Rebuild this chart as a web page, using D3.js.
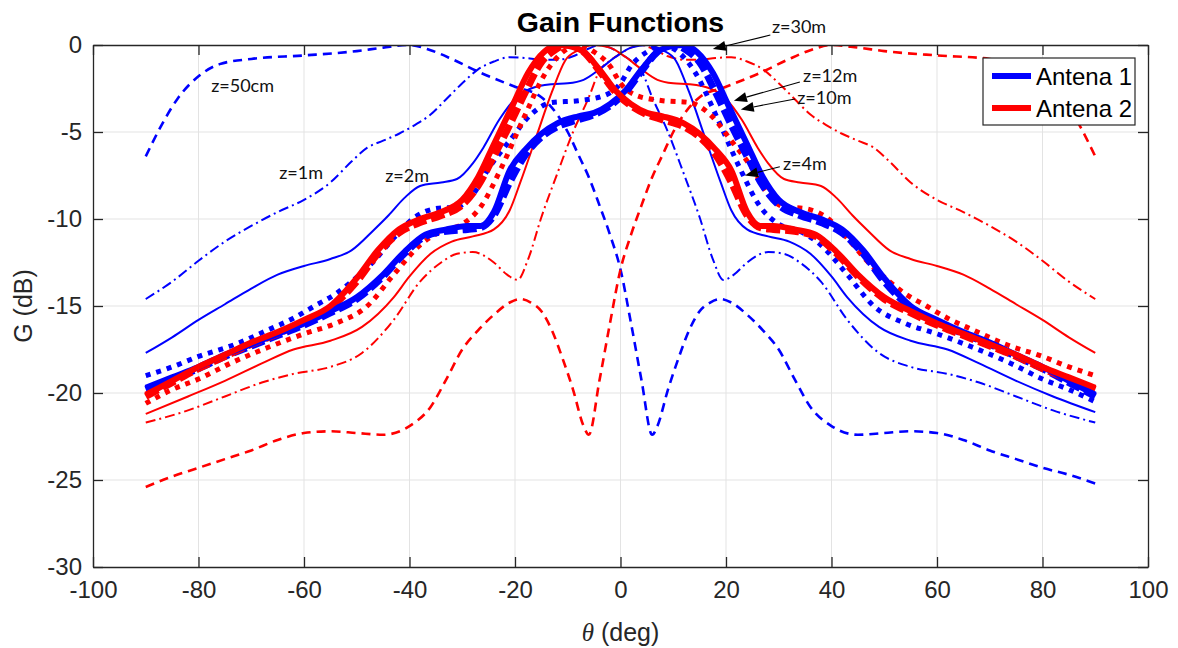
<!DOCTYPE html>
<html><head><meta charset="utf-8">
<script src="https://cdn.jsdelivr.net/npm/d3@7"></script>
<style>body{margin:0;background:#fff}svg{display:block}</style>
</head><body>
<svg id="chart" width="1178" height="648"></svg>
<script>
// ---------- DATA (theta in deg, gain in dB) ----------
const xTicks = [-100,-80,-60,-40,-20,0,20,40,60,80,100];
const yTicks = [-30,-25,-20,-15,-10,-5,0];
const legendLabels = ["Antena 1","Antena 2"];

// Antena 1 (blue)
const a1_z50 = [[-90,-6.4],[-87,-4.6],[-84,-3.1],[-80,-1.8],[-76,-1.1],[-70,-0.8],[-60,-0.6],[-50,-0.35],[-45,-0.15],[-40,0],[-36,-0.3],[-32,-0.8],[-26.5,-1.6],[-20,-2.4],[-15,-3.0],[-12,-4.0],[-10,-5.0],[-8,-6.3],[-6,-7.6],[-4,-9.2],[-2,-10.9],[0,-12.9],[2,-16.0],[4,-19.3],[6,-22.4],[7,-21.9],[9,-19.8],[11,-18.0],[13,-16.4],[15,-15.3],[17,-14.8],[19,-14.6],[21,-14.8],[24,-15.5],[27,-16.4],[30,-17.5],[33,-19.2],[36,-20.8],[40,-21.9],[45,-22.4],[50,-22.3],[55,-22.2],[60,-22.3],[65,-22.7],[70,-23.3],[75,-23.8],[80,-24.3],[85,-24.7],[90,-25.2]];
const a1_z1 = [[-90,-14.6],[-85,-13.6],[-80,-12.4],[-75,-11.3],[-70,-10.4],[-65,-9.6],[-60,-8.9],[-55,-7.9],[-51,-6.7],[-48,-5.9],[-45,-5.5],[-42,-5.1],[-39,-4.6],[-36,-4.0],[-33,-3.1],[-30,-2.2],[-27,-1.4],[-24,-0.95],[-21,-0.7],[-18,-0.75],[-15,-0.85],[-12,-0.85],[-9,-0.65],[-6,-0.2],[-4,0],[-2,-0.15],[0,-0.5],[2,-0.9],[4,-1.5],[6,-3.0],[9,-5.0],[12,-7.4],[15,-9.9],[17.5,-12.3],[19.5,-13.5],[21.5,-13.2],[24,-12.5],[28,-11.9],[31,-12.0],[34,-12.5],[38,-13.6],[43,-15.8],[49,-17.7],[55,-18.5],[62,-18.9],[68,-19.4],[75,-20.2],[82,-21.0],[90,-21.7]];
const a1_z2 = [[-90,-17.7],[-85,-16.8],[-80,-15.8],[-75,-14.9],[-70,-14.0],[-65,-13.2],[-60,-12.7],[-55,-12.3],[-51,-11.8],[-47,-10.7],[-44,-9.8],[-41,-8.8],[-38,-8.1],[-34,-7.9],[-31,-7.7],[-28,-6.8],[-26,-5.9],[-23,-4.3],[-20,-3.1],[-17,-2.5],[-13,-2.25],[-10,-2.2],[-7,-2.0],[-4,-1.4],[-1,-0.7],[2,-0.15],[5,0],[8,-0.3],[10.5,-0.9],[13,-2.7],[16,-5.3],[19,-7.9],[21,-9.5],[24,-10.6],[28,-11.0],[32,-11.3],[36,-12.0],[40,-13.3],[43,-14.5],[49,-16.2],[55,-17.0],[62,-17.5],[68,-18.3],[75,-19.3],[82,-20.2],[90,-21.1]];
const a1_z4 = [[-90,-19.0],[-85,-18.5],[-80,-17.9],[-73,-17.2],[-67,-16.4],[-62,-15.7],[-58,-15.0],[-54,-14.3],[-51,-13.6],[-47,-12.5],[-43,-11.1],[-39,-9.9],[-35,-9.4],[-31,-9.3],[-28,-8.6],[-25,-7.1],[-21,-5.5],[-17,-4.0],[-13,-3.3],[-8,-3.2],[-3,-2.9],[0,-2.2],[2,-1.2],[5,-0.4],[8,0],[10.5,-0.3],[14,-1.5],[18.5,-4.3],[22.5,-7.0],[26.5,-9.3],[30,-10.3],[34,-10.7],[38,-11.5],[43,-13.2],[48,-15.0],[54,-16.0],[60,-16.6],[67,-17.4],[74,-18.3],[80,-19.2],[85,-19.8],[90,-20.5]];
const a1_z12 = [[-90,-19.8],[-85,-19.2],[-80,-18.6],[-75,-17.9],[-70,-17.3],[-65,-16.7],[-60,-16.1],[-55,-15.4],[-50,-14.6],[-45,-13.3],[-41,-12.0],[-37,-11.0],[-33,-10.7],[-29,-10.6],[-26.5,-10.5],[-24,-9.8],[-21,-7.9],[-18,-6.3],[-15,-5.3],[-12,-4.7],[-8,-4.3],[-5,-4.0],[-2,-3.5],[1,-2.7],[4,-1.5],[7,-0.4],[10,0],[12.5,-0.3],[15,-1.0],[18,-2.7],[21,-4.6],[24,-6.4],[27,-8.1],[30,-9.2],[34,-9.8],[38,-10.2],[42,-10.8],[46,-12.0],[50,-13.6],[55,-15.1],[60,-15.9],[65,-16.6],[70,-17.2],[75,-17.9],[80,-18.6],[85,-19.4],[90,-20.2]];
const a1_z30 = [[-90,-19.7],[-85,-19.1],[-80,-18.5],[-75,-17.8],[-70,-17.2],[-65,-16.6],[-60,-16.0],[-55,-15.3],[-50,-14.5],[-45,-13.2],[-41,-11.9],[-37,-10.9],[-33,-10.6],[-29,-10.4],[-26.5,-10.4],[-24,-9.6],[-21,-7.2],[-18,-6.0],[-15,-5.1],[-12,-4.5],[-8,-4.1],[-5,-3.9],[-2,-3.4],[1,-2.6],[4,-1.4],[7,-0.4],[10,-0.05],[12,0],[14.5,-0.4],[17.5,-1.6],[20.5,-3.5],[24,-5.7],[27,-7.6],[30,-8.9],[34,-9.6],[38,-10.0],[42,-10.6],[46,-11.8],[50,-13.4],[55,-15.0],[60,-15.8],[65,-16.5],[70,-17.1],[75,-17.8],[80,-18.5],[85,-19.3],[90,-20.1]];

// Antena 2 (red)
const a2_z50 = [[-90,-25.4],[-85,-24.8],[-80,-24.3],[-75,-23.8],[-70,-23.3],[-65,-22.7],[-60,-22.3],[-55,-22.2],[-50,-22.3],[-45,-22.4],[-40,-21.9],[-36,-20.8],[-33,-19.2],[-30,-17.5],[-27,-16.4],[-24,-15.5],[-21,-14.8],[-19,-14.6],[-17,-14.8],[-15,-15.3],[-13,-16.4],[-11,-18.0],[-9,-19.8],[-7,-21.9],[-6,-22.4],[-4,-19.3],[-2,-16.0],[0,-12.9],[2,-10.9],[4,-9.2],[6,-7.6],[8,-6.3],[10,-5.0],[12,-4.0],[15,-3.0],[20,-2.4],[26.5,-1.6],[32,-0.8],[36,-0.3],[40,0],[45,-0.15],[50,-0.35],[60,-0.6],[70,-0.8],[76,-1.1],[80,-1.8],[84,-3.1],[87,-4.6],[90,-6.4]];
const a2_z1 = [[-90,-21.7],[-82,-21.0],[-75,-20.2],[-68,-19.4],[-62,-18.9],[-55,-18.5],[-49,-17.7],[-43,-15.8],[-38,-13.6],[-34,-12.5],[-31,-12.0],[-28,-11.9],[-24,-12.5],[-21.5,-13.2],[-19.5,-13.5],[-17.5,-12.3],[-15,-9.9],[-12,-7.4],[-9,-5.0],[-6,-3.0],[-4,-1.5],[-2,-0.9],[0,-0.5],[2,-0.15],[4,0],[6,-0.2],[9,-0.65],[12,-0.85],[15,-0.85],[18,-0.75],[21,-0.7],[24,-0.95],[27,-1.4],[30,-2.2],[33,-3.1],[36,-4.0],[39,-4.6],[42,-5.1],[45,-5.5],[48,-5.9],[51,-6.7],[55,-7.9],[60,-8.9],[65,-9.6],[70,-10.4],[75,-11.3],[80,-12.4],[85,-13.6],[90,-14.6]];
const a2_z2 = [[-90,-21.2],[-82,-20.2],[-75,-19.3],[-68,-18.3],[-62,-17.5],[-55,-17.0],[-49,-16.2],[-43,-14.5],[-40,-13.3],[-36,-12.0],[-32,-11.3],[-28,-11.0],[-24,-10.6],[-21,-9.5],[-19,-7.9],[-16,-5.3],[-13,-2.7],[-10.5,-0.9],[-8,-0.3],[-5,0],[-2,-0.15],[1,-0.7],[4,-1.4],[7,-2.0],[10,-2.2],[13,-2.25],[17,-2.5],[20,-3.1],[23,-4.3],[26,-5.9],[28,-6.8],[31,-7.7],[34,-7.9],[38,-8.1],[41,-8.8],[44,-9.8],[47,-10.7],[51,-11.8],[55,-12.3],[60,-12.7],[65,-13.2],[70,-14.0],[75,-14.9],[80,-15.8],[85,-16.8],[90,-17.7]];
const a2_z4 = [[-90,-20.6],[-85,-19.8],[-80,-19.2],[-74,-18.3],[-67,-17.4],[-60,-16.6],[-54,-16.0],[-48,-15.0],[-43,-13.2],[-38,-11.5],[-34,-10.7],[-30,-10.3],[-26.5,-9.3],[-22.5,-7.0],[-18.5,-4.3],[-14,-1.5],[-10.5,-0.3],[-8,0],[-5,-0.4],[-2,-1.2],[0,-2.2],[3,-2.9],[8,-3.2],[13,-3.3],[17,-4.0],[21,-5.5],[25,-7.1],[28,-8.6],[31,-9.3],[35,-9.4],[39,-9.9],[43,-11.1],[47,-12.5],[51,-13.6],[54,-14.3],[58,-15.0],[62,-15.7],[67,-16.4],[73,-17.2],[80,-17.9],[85,-18.5],[90,-19.0]];
const a2_z12 = [[-90,-20.2],[-85,-19.4],[-80,-18.6],[-75,-17.9],[-70,-17.2],[-65,-16.6],[-60,-15.9],[-55,-15.1],[-50,-13.6],[-46,-12.0],[-42,-10.8],[-38,-10.2],[-34,-9.8],[-30,-9.2],[-27,-8.1],[-24,-6.4],[-21,-4.6],[-18,-2.7],[-15,-1.0],[-12.5,-0.3],[-10,0],[-7,-0.4],[-4,-1.5],[-1,-2.7],[2,-3.5],[5,-4.0],[8,-4.3],[12,-4.7],[15,-5.3],[18,-6.3],[21,-7.9],[24,-9.8],[26.5,-10.5],[29,-10.6],[33,-10.7],[37,-11.0],[41,-12.0],[45,-13.3],[50,-14.6],[55,-15.4],[60,-16.1],[65,-16.7],[70,-17.3],[75,-17.9],[80,-18.6],[85,-19.2],[90,-19.8]];
const a2_z30 = [[-90,-20.1],[-85,-19.3],[-80,-18.5],[-75,-17.8],[-70,-17.1],[-65,-16.5],[-60,-15.8],[-55,-15.0],[-50,-13.4],[-46,-11.8],[-42,-10.6],[-38,-10.0],[-34,-9.6],[-30,-8.9],[-27,-7.6],[-24,-5.7],[-20.5,-3.5],[-17.5,-1.6],[-14.5,-0.4],[-12,0],[-10,-0.05],[-7,-0.4],[-4,-1.4],[-1,-2.6],[2,-3.4],[5,-3.9],[8,-4.1],[12,-4.5],[15,-5.1],[18,-6.0],[21,-7.2],[24,-9.6],[26.5,-10.4],[29,-10.4],[33,-10.6],[37,-10.9],[41,-11.9],[45,-13.2],[50,-14.5],[55,-15.3],[60,-16.0],[65,-16.6],[70,-17.2],[75,-17.8],[80,-18.5],[85,-19.1],[90,-19.7]];

// annotation anchors (data coords): text position, arrow start, arrow tip
const annTexts = [
  {t:"z=50cm", x:-77.6, y:-2.7},
  {t:"z=1m",   x:-64.7, y:-7.7},
  {t:"z=2m",   x:-44.6, y:-7.9},
  {t:"z=30m",  x:28.7,  y:0.69},
  {t:"z=12m",  x:34.6,  y:-2.1},
  {t:"z=10m",  x:33.5,  y:-3.4},
  {t:"z=4m",   x:30.8,  y:-7.2}
];
const annArrows = [
  {x1:28.4, y1:0.57, x2:17.5, y2:-0.23},
  {x1:34.0, y1:-2.13, x2:21.5, y2:-3.2},
  {x1:33.1, y1:-3.1, x2:22.8, y2:-3.7},
  {x1:30.2, y1:-7.0, x2:23.6, y2:-7.5}
];

// ---------- STYLES ----------
const BLUE = "#0000ff", RED = "#ff0000";
const styleZ = {
  z50: {w:2.6, dash:"9,6"},
  z1:  {w:2,   dash:"10,4,2,4"},
  z2:  {w:2,   dash:null},
  z4:  {w:5,   dash:"5,6"},
  z12: {w:7,   dash:"14,5"},
  z30: {w:6,   dash:null}
};
const series = [
  {d:a1_z50, c:BLUE, s:"z50"},{d:a2_z50, c:RED, s:"z50"},
  {d:a1_z1,  c:BLUE, s:"z1"}, {d:a2_z1,  c:RED, s:"z1"},
  {d:a1_z2,  c:BLUE, s:"z2"}, {d:a2_z2,  c:RED, s:"z2"},
  {d:a1_z4,  c:BLUE, s:"z4"}, {d:a2_z4,  c:RED, s:"z4"},
  {d:a1_z12, c:BLUE, s:"z12"},{d:a2_z12, c:RED, s:"z12"},
  {d:a1_z30, c:BLUE, s:"z30"},{d:a2_z30, c:RED, s:"z30"}
];

// ---------- CHART ----------
const svg = d3.select("#chart");
const L = 93, R = 1148, T = 45, B = 567;
const x = d3.scaleLinear().domain([-100,100]).range([L,R]);
const y = d3.scaleLinear().domain([-30,0]).range([B,T]);
const AX = "#262626";
const FONT = "'Liberation Sans', Arial, Helvetica, sans-serif";

svg.append("rect").attr("width",1178).attr("height",648).attr("fill","#fff");

// grid
const g = svg.append("g");
g.selectAll(".gx").data(xTicks.slice(1,-1)).join("line")
  .attr("x1",d=>x(d)).attr("x2",d=>x(d)).attr("y1",T).attr("y2",B)
  .attr("stroke","#e3e3e3").attr("stroke-width",1);
g.selectAll(".gy").data(yTicks.slice(1,-1)).join("line")
  .attr("y1",d=>y(d)).attr("y2",d=>y(d)).attr("x1",L).attr("x2",R)
  .attr("stroke","#e3e3e3").attr("stroke-width",1);

// clip
svg.append("clipPath").attr("id","clip").append("rect")
  .attr("x",L).attr("y",T).attr("width",R-L).attr("height",B-T);

const line = d3.line().x(d=>x(d[0])).y(d=>y(d[1])).curve(d3.curveMonotoneX);
const lg = svg.append("g").attr("clip-path","url(#clip)");
series.forEach(s=>{
  const st = styleZ[s.s];
  lg.append("path").attr("d",line(s.d)).attr("fill","none")
    .attr("stroke",s.c).attr("stroke-width",st.w)
    .attr("stroke-dasharray",st.dash)
    .attr("stroke-linejoin","round");
});

// axes (box with inward ticks)
const fmt = d => String(d);
const xAxisB = d3.axisBottom(x).tickValues(xTicks).tickFormat(fmt).tickSizeInner(-10).tickSizeOuter(0).tickPadding(14);
const xAxisT = d3.axisTop(x).tickValues(xTicks).tickSizeInner(-10).tickSizeOuter(0).tickFormat("");
const yAxisL = d3.axisLeft(y).tickValues(yTicks).tickFormat(fmt).tickSizeInner(-10).tickSizeOuter(0).tickPadding(11);
const yAxisR = d3.axisRight(y).tickValues(yTicks).tickSizeInner(-10).tickSizeOuter(0).tickFormat("");
function styleAxis(sel){
  sel.selectAll("path").attr("stroke",AX).attr("stroke-width",1.3);
  sel.selectAll("line").attr("stroke",AX).attr("stroke-width",1.3);
  sel.selectAll("text").attr("fill",AX).style("font-family",FONT).style("font-size","24px");
}
svg.append("g").attr("transform",`translate(0,${B})`).call(xAxisB).call(styleAxis);
svg.append("g").attr("transform",`translate(0,${T})`).call(xAxisT).call(styleAxis);
svg.append("g").attr("transform",`translate(${L},0)`).call(yAxisL).call(styleAxis);
svg.append("g").attr("transform",`translate(${R},0)`).call(yAxisR).call(styleAxis);

// title & labels
svg.append("text").attr("x",x(0)).attr("y",32).attr("text-anchor","middle")
  .style("font-family",FONT).style("font-weight","bold").style("font-size","28.5px")
  .attr("fill","#000").text("Gain Functions");
const xl = svg.append("text").attr("x",x(0)).attr("y",641).attr("text-anchor","middle")
  .style("font-family",FONT).style("font-size","25px").attr("fill",AX);
xl.append("tspan").style("font-family","'Liberation Serif','DejaVu Serif',serif").style("font-style","italic").text("θ");
xl.append("tspan").text(" (deg)");
svg.append("text").attr("transform",`translate(32,${y(-15)}) rotate(-90)`).attr("text-anchor","middle")
  .style("font-family",FONT).style("font-size","25px").attr("fill",AX).text("G (dB)");

// annotations
const ANNF = "Lato, 'Open Sans', sans-serif";
svg.selectAll(".ann").data(annTexts).join("text")
  .attr("x",d=>x(d.x)).attr("y",d=>y(d.y))
  .style("font-family",ANNF).style("font-size","18px").attr("fill","#111").text(d=>d.t);
annArrows.forEach(a=>{
  const x1=x(a.x1), y1=y(a.y1), x2=x(a.x2), y2=y(a.y2);
  const ang = Math.atan2(y2-y1, x2-x1);
  const hl = 13, hw = 5;
  const bx = x2 - hl*Math.cos(ang), by = y2 - hl*Math.sin(ang);
  svg.append("line").attr("x1",x1).attr("y1",y1).attr("x2",bx).attr("y2",by)
    .attr("stroke","#000").attr("stroke-width",1.1);
  const px = -Math.sin(ang)*hw, py = Math.cos(ang)*hw;
  svg.append("path").attr("d",`M${x2},${y2}L${bx+px},${by+py}L${bx-px},${by-py}Z`).attr("fill","#000");
});

// legend
const lgx = 983, lgy = 58, lgw = 152, lgh = 67;
const leg = svg.append("g");
leg.append("rect").attr("x",lgx).attr("y",lgy).attr("width",lgw).attr("height",lgh)
  .attr("fill","#fff").attr("stroke",AX).attr("stroke-width",1.2);
[BLUE,RED].forEach((c,i)=>{
  const yy = lgy + 18 + i*32;
  leg.append("line").attr("x1",lgx+9).attr("x2",lgx+48).attr("y1",yy).attr("y2",yy)
    .attr("stroke",c).attr("stroke-width",6);
  leg.append("text").attr("x",lgx+53).attr("y",yy+8.5)
    .style("font-family",FONT).style("font-size","24px").attr("fill","#000").text(legendLabels[i]);
});
</script>
</body></html>
